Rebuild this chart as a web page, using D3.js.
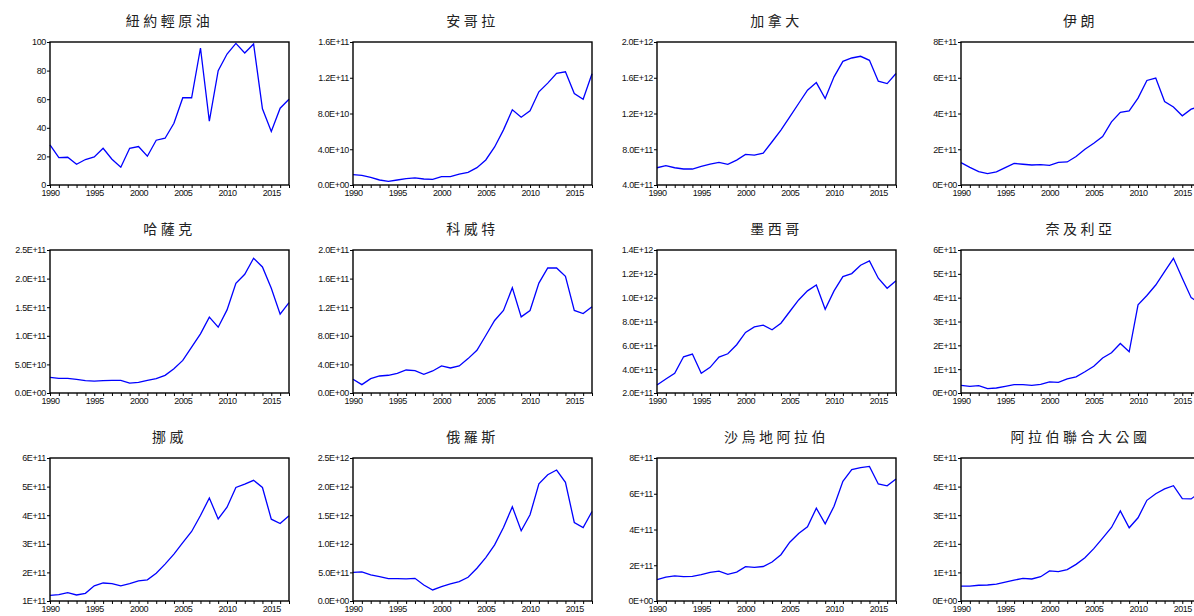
<!DOCTYPE html>
<html>
<head>
<meta charset="utf-8">
<script src="https://cdn.jsdelivr.net/npm/d3@7"></script>
<style>
  html, body { margin: 0; padding: 0; background: #fff; overflow: hidden; }
  svg { display: block; }
</style>
</head>
<body>
<svg id="chart" width="1194" height="616"></svg>
<script>
// years on the x axis
const years = d3.range(1990, 2018);
const yearLabels = [1990, 1995, 2000, 2005, 2010, 2015];

// panel titles, row by row
const titles = ['紐約輕原油', '安哥拉', '加拿大', '伊朗',
                '哈薩克', '科威特', '墨西哥', '奈及利亞',
                '挪威', '俄羅斯', '沙烏地阿拉伯', '阿拉伯聯合大公國'];

// series, in the unit given in `units`
const wti = [28, 19.2, 19.4, 14.5, 17.8, 19.6, 25.7, 18, 12.4, 25.7, 26.9, 20.1, 31.3, 32.7,
             43.2, 61, 61, 95.8, 44.6, 80, 91.6, 99, 92.3, 98.6, 53.3, 37.4, 53.7, 60];
const angola = [1.16, 1.08, 0.86, 0.56, 0.41, 0.56, 0.71, 0.79, 0.67, 0.64, 0.93, 0.93, 1.23, 1.42,
                1.94, 2.8, 4.26, 6.17, 8.41, 7.59, 8.3, 10.43, 11.4, 12.49, 12.67, 10.24, 9.6, 12.45];
const canada = [5.93, 6.16, 5.93, 5.79, 5.79, 6.08, 6.34, 6.53, 6.31, 6.79, 7.42, 7.35, 7.57, 8.84,
                10.14, 11.63, 13.12, 14.6, 15.46, 13.67, 16.1, 17.84, 18.21, 18.4, 17.95, 15.61, 15.35, 16.47];
const iran = [1.25, 0.99, 0.75, 0.64, 0.73, 0.97, 1.21, 1.16, 1.12, 1.14, 1.10, 1.27, 1.29, 1.59,
              2.0, 2.34, 2.71, 3.53, 4.07, 4.15, 4.86, 5.85, 5.98, 4.67, 4.36, 3.87, 4.24, 4.4];
const kazakhstan = [2.73, 2.56, 2.56, 2.38, 2.15, 2.09, 2.15, 2.2, 2.2, 1.74, 1.86, 2.2, 2.5, 3.08,
                    4.24, 5.7, 8.02, 10.35, 13.26, 11.5, 14.53, 19.19, 20.76, 23.55, 22.03, 18.31, 13.78, 15.81];
const kuwait = [1.92, 1.17, 2.01, 2.38, 2.48, 2.76, 3.22, 3.13, 2.62, 3.08, 3.79, 3.5, 3.79, 4.81,
                5.98, 8.04, 10.14, 11.54, 14.72, 10.65, 11.54, 15.37, 17.48, 17.48, 16.31, 11.54, 11.12, 12.06];
const mexico = [2.67, 3.17, 3.65, 5.04, 5.27, 3.65, 4.15, 5.01, 5.29, 6.05, 7.08, 7.55, 7.69, 7.3,
                7.86, 8.84, 9.81, 10.57, 11.07, 9.03, 10.57, 11.77, 12.02, 12.72, 13.08, 11.63, 10.79, 11.41];
const nigeria = [0.32, 0.28, 0.31, 0.18, 0.21, 0.28, 0.35, 0.35, 0.32, 0.36, 0.47, 0.45, 0.59, 0.68,
                 0.89, 1.12, 1.47, 1.69, 2.08, 1.73, 3.70, 4.09, 4.53, 5.09, 5.65, 4.81, 4.0, 3.76];
const norway = [1.2, 1.22, 1.29, 1.21, 1.27, 1.53, 1.63, 1.61, 1.53, 1.61, 1.7, 1.74, 1.97, 2.29,
                2.64, 3.04, 3.43, 3.99, 4.6, 3.87, 4.28, 4.97, 5.09, 5.22, 4.97, 3.86, 3.71, 3.98];
const russia = [5.02, 5.08, 4.56, 4.26, 3.91, 3.91, 3.86, 3.97, 2.8, 1.93, 2.51, 2.98, 3.39, 4.15,
                5.72, 7.59, 9.81, 12.85, 16.47, 12.27, 15.07, 20.5, 22.08, 22.9, 20.74, 13.73, 12.85, 15.65];
const saudi = [1.19, 1.34, 1.40, 1.36, 1.38, 1.47, 1.6, 1.67, 1.49, 1.62, 1.92, 1.88, 1.93, 2.18,
               2.59, 3.29, 3.78, 4.15, 5.19, 4.32, 5.3, 6.7, 7.35, 7.46, 7.53, 6.55, 6.44, 6.83];
const uae = [0.52, 0.52, 0.55, 0.56, 0.59, 0.66, 0.73, 0.79, 0.77, 0.85, 1.05, 1.03, 1.1, 1.28,
             1.51, 1.83, 2.2, 2.57, 3.15, 2.56, 2.91, 3.52, 3.75, 3.92, 4.03, 3.58, 3.57, 3.8];

const series = [wti, angola, canada, iran, kazakhstan, kuwait, mexico, nigeria, norway, russia, saudi, uae];
const units = [1, 1e10, 1e11, 1e11, 1e10, 1e10, 1e11, 1e11, 1e11, 1e11, 1e11, 1e11];

// y tick labels (first and last give the axis range)
const yTickLabels = [
  ['0', '20', '40', '60', '80', '100'],
  ['0.0E+00', '4.0E+10', '8.0E+10', '1.2E+11', '1.6E+11'],
  ['4.0E+11', '8.0E+11', '1.2E+12', '1.6E+12', '2.0E+12'],
  ['0E+00', '2E+11', '4E+11', '6E+11', '8E+11'],
  ['0.0E+00', '5.0E+10', '1.0E+11', '1.5E+11', '2.0E+11', '2.5E+11'],
  ['0.0E+00', '4.0E+10', '8.0E+10', '1.2E+11', '1.6E+11', '2.0E+11'],
  ['2.0E+11', '4.0E+11', '6.0E+11', '8.0E+11', '1.0E+12', '1.2E+12', '1.4E+12'],
  ['0E+00', '1E+11', '2E+11', '3E+11', '4E+11', '5E+11', '6E+11'],
  ['1E+11', '2E+11', '3E+11', '4E+11', '5E+11', '6E+11'],
  ['0.0E+00', '5.0E+11', '1.0E+12', '1.5E+12', '2.0E+12', '2.5E+12'],
  ['0E+00', '2E+11', '4E+11', '6E+11', '8E+11'],
  ['0E+00', '1E+11', '2E+11', '3E+11', '4E+11', '5E+11']
];

// layout
const colLeft = [50, 353, 657, 961];
const rowTop = [42, 250, 458];
const pw = 239, ph = 143;

const svg = d3.select('#chart');

titles.forEach(function(title, i){
  const r = Math.floor(i / 4), c = i % 4;
  const g = svg.append('g').attr('transform', 'translate(' + colLeft[c] + ',' + rowTop[r] + ')');

  const ticks = yTickLabels[i].map(Number);
  const x = d3.scaleLinear().domain([1990, 2017]).range([0, pw]);
  const y = d3.scaleLinear().domain([ticks[0], ticks[ticks.length - 1]]).range([ph, 0]);

  // title
  g.append('text')
    .attr('x', pw / 2).attr('y', -16)
    .attr('text-anchor', 'middle')
    .attr('font-family', '"Noto Sans CJK TC", "Noto Sans CJK SC", sans-serif')
    .attr('font-size', '14px')
    .attr('letter-spacing', '3.5px')
    .attr('fill', '#222')
    .text(title);

  // y axis
  const ya = g.append('g')
    .call(d3.axisLeft(y).tickValues(ticks).tickSize(3).tickPadding(1)
      .tickFormat(function(d, k){ return yTickLabels[i][k]; }));
  ya.select('.domain').remove();
  ya.selectAll('text').attr('font-family', '"Liberation Sans", Arial, sans-serif')
    .attr('font-size', '9px').attr('letter-spacing', '-0.35px').attr('fill', '#111');
  ya.selectAll('line').attr('stroke', '#000');

  // x axis: small tick every year, labels every 5 years
  const xa = g.append('g').attr('transform', 'translate(0,' + ph + ')')
    .call(d3.axisBottom(x).tickValues(years).tickSize(3).tickPadding(2)
      .tickFormat(function(d){ return yearLabels.indexOf(d) >= 0 ? d : ''; }));
  xa.select('.domain').remove();
  xa.selectAll('text').attr('font-family', '"Liberation Sans", Arial, sans-serif')
    .attr('font-size', '9px').attr('letter-spacing', '-0.5px').attr('fill', '#111');
  xa.selectAll('line').attr('stroke', '#000');

  // series line
  const line = d3.line()
    .x(function(d, k){ return x(years[k]); })
    .y(function(d){ return y(d * units[i]); });
  g.append('path')
    .datum(series[i])
    .attr('fill', 'none')
    .attr('stroke', '#0000ff')
    .attr('stroke-width', 1.3)
    .attr('d', line);

  // frame
  g.append('rect')
    .attr('width', pw).attr('height', ph)
    .attr('fill', 'none')
    .attr('stroke', '#000')
    .attr('stroke-width', 1.4);
});
</script>
</body>
</html>
